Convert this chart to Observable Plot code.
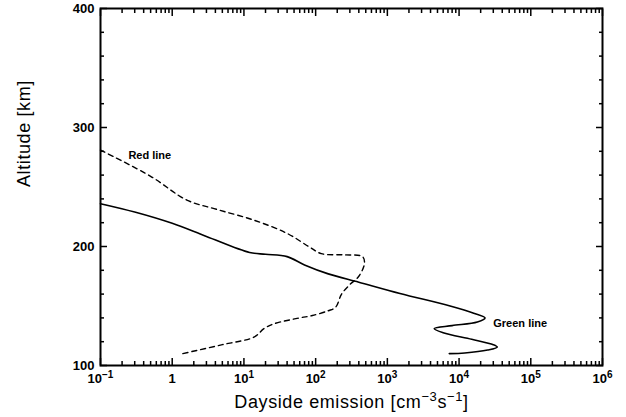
<!DOCTYPE html>
<html><head><meta charset="utf-8">
<script src="https://cdn.jsdelivr.net/npm/d3@7"></script>
<script src="https://cdn.jsdelivr.net/npm/@observablehq/plot@0.6"></script>
<style>body{margin:0;background:#fff}</style>
</head><body><div id="chart"></div>
<script>
// Green line (solid): emission vs altitude
const greenX   = [0.1, 0.3, 1, 3, 12, 20, 40, 70, 150, 400, 1500, 7500, 16000, 23000, 18000, 8000, 4500, 6000, 15000, 30000, 34000, 25000, 12000, 7300];
const greenAlt = [236, 229, 219.5, 208.5, 195, 193.5, 191.5, 184.5, 177, 170, 160.5, 150, 144, 140, 136.5, 133.5, 131, 127.5, 122, 117.5, 115.5, 113, 110.5, 110];
// Red line (dashed)
const redX   = [0.1, 0.5, 1.6, 4.3, 14, 40, 80, 120, 250, 450, 480, 400, 300, 230, 190, 150, 90, 60, 26, 19, 14, 5, 1.4];
const redAlt = [281, 259, 239, 231, 222, 211, 200, 194, 193, 191.5, 186, 175, 168, 160, 149, 146, 142, 140, 135, 131, 124, 117.5, 110];

const xMajor = [0.1, 1, 10, 100, 1e3, 1e4, 1e5, 1e6];
const xMajorLabels = ["10^-1", "1", "10^1", "10^2", "10^3", "10^4", "10^5", "10^6"];
const xMinor = [];
for (let k = -1; k < 6; k++) for (let m = 2; m <= 9; m++) xMinor.push(m * Math.pow(10, k));
const yMajor = [100, 200, 300, 400];
const yMinor = [120, 140, 160, 180, 220, 240, 260, 280, 320, 340, 360, 380];

const seriesLabels = [
  {x: 0.245, y: 276.3, text: "Red line"},
  {x: 30000, y: 135.1, text: "Green line"}
];
const yTitle = "Altitude [km]";
const xTitle = "Dayside emission [cm^-3s^-1]";

const green = greenX.map((x, i) => ({x, y: greenAlt[i]}));
const red = redX.map((x, i) => ({x, y: redAlt[i]}));

const font = "'Liberation Sans', Arial, Helvetica, sans-serif";

const plot = Plot.plot({
  width: 626, height: 417,
  marginLeft: 100, marginRight: 24, marginTop: 8, marginBottom: 52,
  x: {type: "log", domain: [0.1, 1e6]},
  y: {type: "linear", domain: [100, 400]},
  style: {fontFamily: font, fontSize: "12px", color: "black", background: "white"},
  marks: [
    Plot.axisX({anchor: "bottom", ticks: xMajor, tickSize: -7, text: null, label: null, strokeWidth: 1.5}),
    Plot.axisX({anchor: "bottom", ticks: xMinor, tickSize: -4, text: null, label: null, strokeWidth: 1.5}),
    Plot.axisX({anchor: "top", ticks: xMajor, tickSize: -7, text: null, label: null, strokeWidth: 1.5}),
    Plot.axisX({anchor: "top", ticks: xMinor, tickSize: -4, text: null, label: null, strokeWidth: 1.5}),
    Plot.axisY({anchor: "left", ticks: yMajor, tickSize: -7, text: null, label: null, strokeWidth: 1.5}),
    Plot.axisY({anchor: "left", ticks: yMinor, tickSize: -4, text: null, label: null, strokeWidth: 1.5}),
    Plot.axisY({anchor: "right", ticks: yMajor, tickSize: -7, text: null, label: null, strokeWidth: 1.5}),
    Plot.axisY({anchor: "right", ticks: yMinor, tickSize: -4, text: null, label: null, strokeWidth: 1.5}),
    Plot.axisX({anchor: "bottom", ticks: xMajor, tickSize: 0, tickPadding: 8, label: null,
      tickFormat: d => xMajorLabels[xMajor.indexOf(d)], fontSize: 13, fontWeight: "bold"}),
    Plot.axisY({anchor: "left", ticks: yMajor, tickSize: 0, tickPadding: 6, label: null,
      tickFormat: d => String(d), fontSize: 13, fontWeight: "bold"}),
    Plot.frame({stroke: "black", strokeWidth: 2}),
    Plot.line(green, {x: "x", y: "y", curve: "catmull-rom", stroke: "black", strokeWidth: 1.6}),
    Plot.line(red, {x: "x", y: "y", curve: "catmull-rom", stroke: "black", strokeWidth: 1.4, strokeDasharray: "5,4"}),
    Plot.text(seriesLabels, {x: "x", y: "y", text: "text", textAnchor: "start", fontSize: 11, fontWeight: "bold"}),
    Plot.text([yTitle], {frameAnchor: "left", text: d => d, rotate: -90, dx: -76, fontSize: 18}),
    Plot.text([xTitle], {frameAnchor: "bottom", text: d => d, dy: 42, fontSize: 18})
  ]
});

// render "a^b" strings with real superscript tspans (baseline-shift, no filler tspans)
function superscript(textEl, supSize) {
  const s = textEl.textContent;
  const parts = s.split(/(\^-?\d+)/).filter(p => p.length);
  textEl.textContent = "";
  parts.forEach(p => {
    const t = document.createElementNS("http://www.w3.org/2000/svg", "tspan");
    if (p.startsWith("^")) {
      t.textContent = p.slice(1).replace("-", "\u2212");
      t.setAttribute("font-size", supSize);
      t.setAttribute("baseline-shift", "super");
    } else {
      t.textContent = p;
    }
    textEl.appendChild(t);
  });
}
plot.querySelectorAll("text").forEach(t => {
  if (t.textContent.includes("^")) {
    const big = t.textContent.startsWith("Dayside");
    superscript(t, big ? "13px" : "10px");
  }
});
plot.querySelectorAll("text").forEach(t => {
  if (t.textContent.startsWith("Dayside") || t.textContent.startsWith("Altitude")) t.setAttribute("letter-spacing", "0.6");
});
document.getElementById("chart").appendChild(plot);
</script>
</body></html>
